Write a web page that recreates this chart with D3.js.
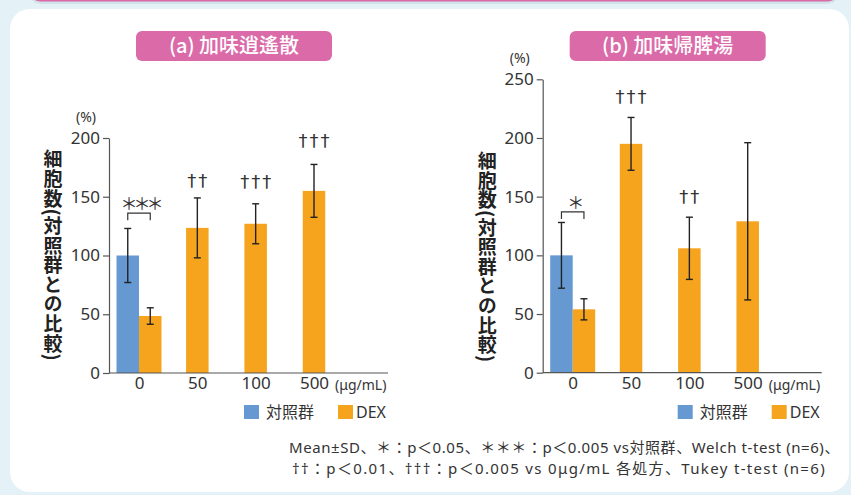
<!DOCTYPE html>
<html>
<head>
<meta charset="utf-8">
<script src="https://cdn.jsdelivr.net/npm/d3@7"></script>
<style>
  body { margin: 0; background: #e4f2f8; }
  svg { display: block; font-family: "Noto Sans CJK JP", "Noto Sans", sans-serif; }
</style>
</head>
<body>
<svg id="chart" width="851" height="495"></svg>
<script>
// categories (ug/mL)
const doses = ["0", "50", "100", "500"];

// panel a : 加味逍遙散
const ctrlA = 100, ctrlErrA = 23;
const dexA = [48.5, 123.5, 127, 155];
const dexErrA = [7, 25.5, 17, 22.5];
const ticksA = [0, 50, 100, 150, 200];
const daggerA = [null, "††", "†††", "†††"];
const daggerYA = [null, 164, 163, 198];   // label height, in %

// panel b : 加味帰脾湯
const ctrlB = 100, ctrlErrB = 28;
const dexB = [54, 195, 106, 129];
const dexErrB = [9, 22.5, 26.5, 67];
const ticksB = [0, 50, 100, 150, 200, 250];
const daggerB = [null, "†††", "††", null];
const daggerYB = [null, 235, 150, null];

const colCtrl = "#6699d2";
const colDex = "#f6a41d";
const ink = "#333";
const latin = "'Noto Sans', 'Noto Sans CJK JP', sans-serif";

const svg = d3.select("#chart");

// card background
svg.append("rect").attr("x", 30).attr("y", -20).attr("width", 808).attr("height", 24)
  .attr("rx", 10).attr("fill", "#d3e3ea");
svg.append("rect").attr("x", 30).attr("y", -20).attr("width", 808).attr("height", 21.5)
  .attr("rx", 10).attr("fill", "#d96aa7");
svg.append("rect").attr("x", 10).attr("y", 9).attr("width", 839).attr("height", 483)
  .attr("rx", 20).attr("fill", "#fff");

function panel(opt) {
  const g = svg.append("g").attr("transform", `translate(${opt.left},0)`);
  const y = d3.scaleLinear().domain([0, opt.max]).range([opt.bottom, opt.top]);
  const x = d3.scalePoint().domain(doses).range([30, 205]);
  const sub = d3.scaleBand().domain(["ctrl", "dex"]).range([-22.5, 22.5]);
  const bw = sub.bandwidth();
  const axW = 279;

  // title box
  g.append("rect").attr("x", 27).attr("y", 31).attr("width", 196).attr("height", 30)
    .attr("rx", 6).attr("fill", "#db6aa9");
  g.append("text").attr("x", 125).attr("y", 53).attr("text-anchor", "middle")
    .attr("fill", "#fff").attr("font-size", 20).attr("font-weight", 500).text(opt.title);

  // y axis
  const ya = g.append("g").call(d3.axisLeft(y).tickValues(opt.ticks).tickSize(6).tickSizeOuter(0).tickPadding(3));
  ya.select(".domain").attr("stroke", "#555").attr("stroke-width", 1.2);
  ya.selectAll(".tick line").attr("stroke", "#555").attr("stroke-width", 1.2);
  ya.selectAll(".tick text").attr("font-size", 17).attr("fill", ink).attr("font-family", latin);

  g.append("text").attr("x", -23).attr("y", y(opt.max) - 16).attr("text-anchor", "middle")
    .attr("font-size", 14).attr("fill", ink).attr("font-family", latin).text("(%)");

  // y title (vertical)
  g.append("text").attr("x", opt.labelX).attr("y", (opt.top + opt.bottom) / 2 + opt.labelDy)
    .attr("text-anchor", "middle").attr("font-size", 19).attr("font-weight", 700)
    .attr("letter-spacing", 0.6)
    .attr("fill", "#222").style("writing-mode", "vertical-rl").style("text-orientation", "mixed")
    .text("細胞数(対照群との比較)");

  // bars
  const bars = [{ cat: "0", key: "ctrl", v: opt.ctrl, e: opt.ctrlErr, c: colCtrl }];
  doses.forEach((d, i) => {
    const cx = i === 0 ? x(d) + sub("dex") : x(d) - bw / 2;
    bars.push({ cat: d, key: "dex", left: cx, v: opt.dex[i], e: opt.dexErr[i], c: colDex });
  });
  bars[0].left = x("0") + sub("ctrl");

  g.selectAll("rect.bar").data(bars).join("rect").attr("class", "bar")
    .attr("x", d => d.left).attr("width", bw)
    .attr("y", d => y(d.v)).attr("height", d => y(0) - y(d.v)).attr("fill", d => d.c);

  // error bars
  const eb = g.selectAll("g.err").data(bars).join("g").attr("class", "err")
    .attr("stroke", "#222").attr("stroke-width", 1.4);
  eb.append("line").attr("x1", d => d.left + bw / 2).attr("x2", d => d.left + bw / 2)
    .attr("y1", d => y(d.v + d.e)).attr("y2", d => y(d.v - d.e));
  eb.append("line").attr("x1", d => d.left + bw / 2 - 3.5).attr("x2", d => d.left + bw / 2 + 3.5)
    .attr("y1", d => y(d.v + d.e)).attr("y2", d => y(d.v + d.e));
  eb.append("line").attr("x1", d => d.left + bw / 2 - 3.5).attr("x2", d => d.left + bw / 2 + 3.5)
    .attr("y1", d => y(d.v - d.e)).attr("y2", d => y(d.v - d.e));

  // x axis
  g.append("line").attr("x1", 0).attr("x2", axW).attr("y1", y(0)).attr("y2", y(0))
    .attr("stroke", "#555").attr("stroke-width", 1.2);
  const xa = g.append("g").attr("transform", `translate(0,${y(0)})`)
    .call(d3.axisBottom(x).tickSize(0).tickSizeOuter(0).tickPadding(4));
  xa.select(".domain").remove();
  xa.selectAll(".tick text").attr("font-size", 17).attr("fill", ink).attr("font-family", latin);
  g.append("text").attr("x", x("500") + 21).attr("y", y(0) + 17).attr("font-size", 14)
    .attr("fill", ink).attr("font-family", latin).text("(μg/mL)");

  // significance bracket vs control
  const xc = x("0") + sub("ctrl") + bw / 2, xd = x("0") + sub("dex") + bw / 2;
  g.append("path")
    .attr("d", `M${xc},${y(opt.brk) + 7}V${y(opt.brk)}H${xd}V${y(opt.brk) + 7}`)
    .attr("fill", "none").attr("stroke", "#333").attr("stroke-width", 1.2);
  g.append("text").attr("x", (xc + xd) / 2 + 1).attr("y", y(opt.brk) - 3)
    .attr("text-anchor", "middle").attr("font-size", 17).attr("letter-spacing", -4)
    .attr("fill", ink).text(opt.star);

  // daggers vs 0 ug/mL
  g.selectAll("text.dag").data(doses.map((d, i) => ({ d, t: opt.dag[i], v: opt.dagY[i] })).filter(o => o.t))
    .join("text").attr("class", "dag")
    .attr("x", o => x(o.d) + 1).attr("y", o => y(o.v)).attr("dy", "0.35em")
    .attr("text-anchor", "middle").attr("font-size", 18).attr("letter-spacing", 2)
    .attr("fill", ink).attr("font-family", "'DejaVu Sans', sans-serif").text(o => o.t);

  // legend
  const lg = g.append("g").attr("transform", "translate(135,405)");
  lg.append("rect").attr("width", 15).attr("height", 14).attr("fill", colCtrl);
  lg.append("text").attr("x", 22).attr("y", 12.5).attr("font-size", 16).attr("fill", ink).text("対照群");
  lg.append("rect").attr("x", 94).attr("width", 15).attr("height", 14).attr("fill", colDex);
  lg.append("text").attr("x", 112).attr("y", 12.5).attr("font-size", 16).attr("fill", ink)
    .attr("font-family", latin).text("DEX");
}

panel({ left: 109, max: 200, top: 138, bottom: 373, title: "(a) 加味逍遙散", labelX: -56, labelDy: 0,
  ticks: ticksA, ctrl: ctrlA, ctrlErr: ctrlErrA, dex: dexA, dexErr: dexErrA,
  dag: daggerA, dagY: daggerYA, brk: 136, star: "＊＊＊" });
panel({ left: 542.7, max: 250, top: 79.3, bottom: 372.7, title: "(b) 加味帰脾湯", labelX: -55.5, labelDy: 31,
  ticks: ticksB, ctrl: ctrlB, ctrlErr: ctrlErrB, dex: dexB, dexErr: dexErrB,
  dag: daggerB, dagY: daggerYB, brk: 137, star: "＊" });

// footnote, stretched to the reference line widths
const notes = [
  { x: 289, y: 453, w: 551, t: "Mean±SD、＊：p＜0.05、＊＊＊：p＜0.005 vs対照群、Welch t-test (n=6)、" },
  { x: 292, y: 474, w: 534, t: "††：p＜0.01、†††：p＜0.005 vs 0μg/mL 各処方、Tukey t-test (n=6)" }
];
notes.forEach(n => {
  const t = svg.append("text").attr("x", n.x).attr("y", n.y).attr("font-size", 15)
    .attr("fill", ink).attr("font-family", latin).text(n.t);
  const len = t.node().getComputedTextLength();
  t.attr("letter-spacing", (n.w - len) / n.t.length);
});
</script>
</body>
</html>
